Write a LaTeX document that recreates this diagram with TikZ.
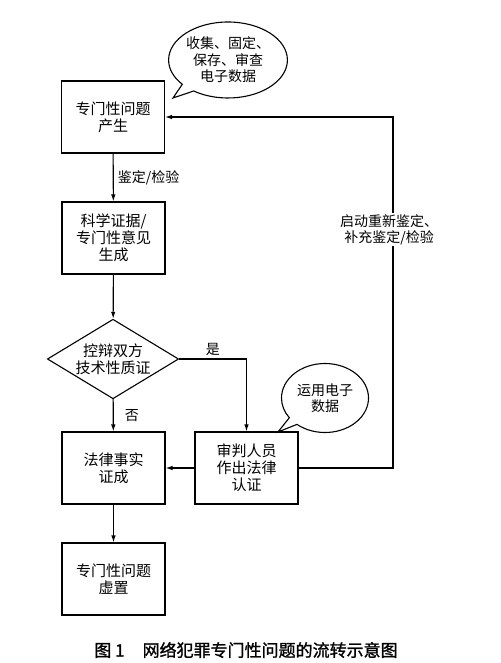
\documentclass[tikz,border=0pt]{standalone}
\usepackage{fontspec}
\setmainfont{Noto Sans CJK SC}
\newfontfamily\capfont{Noto Sans CJK SC}[FakeBold=1.2]
\usetikzlibrary{shapes.geometric,shapes.callouts,arrows.meta}

\tikzset{
	box/.style={draw,line width=1.1pt,minimum width=103pt,minimum height=72pt,align=center,font=\fontsize{15}{17}\selectfont},
	check/.style={draw,line width=1.1pt,shape=diamond,aspect=1.65,inner sep=1pt,minimum width=129pt,minimum height=78pt,align=center,font=\fontsize{15}{17}\selectfont},
	bubble/.style={draw,line width=1.1pt,shape=ellipse callout,inner sep=0pt,align=center,font=\fontsize{14}{16.5}\selectfont},
	tag/.style={font=\fontsize{14}{16}\selectfont,inner sep=1pt}
}

\begin{document}
\begin{tikzpicture}[x=1pt,y=-1pt,line width=1.1pt,>={Latex[length=7pt,width=4.5pt]}]
		\useasboundingbox (0,0) rectangle (500,663);
		%
		\node[box] (prob) at (113,117) {专门性问题\\产生};
		\node[box] (sci) at (113.5,238) {科学证据/\\专门性意见\\生成};
		\node[check] (duel) at (113,359) {控辩双方\\技术性质证};
		\node[box] (fact) at (113.5,468) {法律事实\\证成};
		\node[box] (judge) at (246.5,468) {审判人员\\作出法律\\认证};
		\node[box] (void) at (113.5,579) {专门性问题\\虚置};
		%
		\coordinate (tip1) at (173,98);
		\coordinate (tip2) at (278,432);
		\node[bubble,minimum width=110pt,minimum height=76pt,callout absolute pointer=(tip1)] (collect) at (228,60) {收集、固定、\\保存、审查\\电子数据};
		\node[bubble,minimum width=87pt,minimum height=69pt,callout absolute pointer=(tip2)] (use) at (325,398) {运用电子\\数据};
		%
		\draw[->] (prob) -- node[tag,right=3pt]{鉴定/检验} (sci);
		\draw[->] (sci) -- (duel);
		\draw[->] (duel) -- node[tag,right=10pt]{否} (fact);
		\draw[->] (duel.east) -| node[tag,pos=0.25,above=2pt]{是} (judge.north);
		\draw[->] (judge) -- (fact);
		\draw[->] (fact) -- (void);
		%
		\coordinate (loop) at (393,468);
		\draw[->] (judge.east) -- (loop) |- node[tag,pos=0.34,fill=white,align=center,xshift=-4pt]{启动重新鉴定、\\补充鉴定/检验} (prob.east);
		%
		\node[font=\capfont\fontsize{17}{20}\selectfont] (title) at (246,650) {图 1\hspace{18pt}网络犯罪专门性问题的流转示意图};
	\end{tikzpicture}
\end{document}
